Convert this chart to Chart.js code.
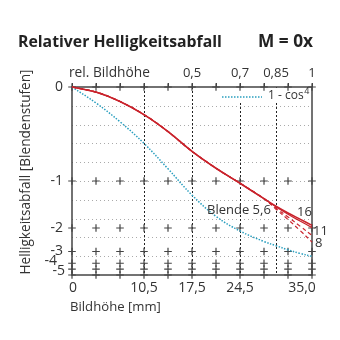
<!DOCTYPE html>
<html>
<head>
<meta charset="utf-8">
<script src="https://cdn.jsdelivr.net/npm/chart.js@4"></script>
<style>
  html, body { margin: 0; padding: 0; background: #fff; }
  #wrap { width: 340px; height: 340px; }
</style>
</head>
<body>
<div id="wrap"><canvas id="chart" width="340" height="340"></canvas></div>
<script>
// Bildhoehe in mm (x) and relative brightness (linear, 1 = centre)
var bildhoehe = [0, 3.5, 7, 10.5, 14, 17.5, 21, 24.5, 28, 29.75, 31.5, 33.25, 35];
var cos4      = [1.0, 0.915, 0.815, 0.70, 0.565, 0.425, 0.312, 0.234, 0.178, 0.156, 0.134, 0.115, 0.099];
var blende16  = [1.0, 0.973, 0.923, 0.853, 0.763, 0.658, 0.568, 0.488, 0.406, 0.366, 0.33, 0.297, 0.264];
var blende11  = [1.0, 0.973, 0.923, 0.853, 0.763, 0.658, 0.568, 0.488, 0.406, 0.363, 0.323, 0.287, 0.252];
var blende8   = [1.0, 0.973, 0.923, 0.853, 0.763, 0.658, 0.568, 0.488, 0.406, 0.356, 0.309, 0.26, 0.21];
var blende56  = [1.0, 0.973, 0.923, 0.853, 0.763, 0.658, 0.568, 0.488, 0.406, 0.35, 0.295, 0.237, 0.175];

// axis ticks
var rasterMm   = [0, 3.5, 7, 10.5, 14, 17.5, 21, 24.5, 28, 31.5, 35];
var xTicks     = [0, 10.5, 17.5, 24.5, 35];
var xLabels    = ['0', '10,5', '17,5', '24,5', '35,0'];
var relTicks   = [17.5, 24.5, 29.75, 35];
var relLabels  = ['0,5', '0,7', '0,85', '1'];
var vLines     = [10.5, 17.5, 24.5, 29.75];
var stufen     = [0, -1, -2, -3, -4, -5];
var hLines     = [0.1, 0.2, 0.3, 0.4, 0.5, 0.6, 0.7, 0.8, 0.9];

var RED = '#c9232c';
var CYAN = '#2a9fbf';
var INK = '#444';
var FONT = '"Open Sans", "DejaVu Sans", sans-serif';

function pts(ys) {
    return bildhoehe.map(function (x, i) { return {x: x, y: ys[i]}; });
}

function crosses() {
    var out = [];
    stufen.forEach(function (s) {
        rasterMm.forEach(function (x) { out.push({x: x, y: Math.pow(2, s)}); });
    });
    rasterMm.forEach(function (x) { out.push({x: x, y: 0}); });
    return out;
}

// set a font so the text gets roughly the given width
function fitFont(ctx, text, weight, width) {
    ctx.font = weight + '20px ' + FONT;
    var size = 20 * width / ctx.measureText(text).width;
    ctx.font = weight + size.toFixed(2) + 'px ' + FONT;
}

var frame = {
    id: 'frame',
    beforeDatasetsDraw: function (chart) {
        var ctx = chart.ctx, a = chart.chartArea;
        var xs = chart.scales.x, ys = chart.scales.y;
        ctx.save();
        // light horizontal grid
        ctx.strokeStyle = '#aaa';
        ctx.lineWidth = 1;
        ctx.setLineDash([1, 3]);
        hLines.forEach(function (v) {
            var y = Math.round(ys.getPixelForValue(v)) + 0.5;
            ctx.beginPath(); ctx.moveTo(a.left, y); ctx.lineTo(a.right, y); ctx.stroke();
        });
        // dark vertical dotted lines
        ctx.strokeStyle = '#222';
        ctx.setLineDash([2, 2]);
        vLines.forEach(function (v) {
            var x = Math.round(xs.getPixelForValue(v)) + 0.5;
            ctx.beginPath(); ctx.moveTo(x, a.top); ctx.lineTo(x, a.bottom); ctx.stroke();
        });
        ctx.setLineDash([]);
        // legend box covers the grid
        ctx.fillStyle = '#fff';
        ctx.fillRect(218, a.top + 1, 92, 15);
        // frame
        ctx.strokeStyle = INK;
        ctx.lineWidth = 1.5;
        ctx.strokeRect(a.left, a.top, a.right - a.left, a.bottom - a.top);
        // top ticks
        ctx.lineWidth = 1;
        rasterMm.forEach(function (v) {
            var x = Math.round(xs.getPixelForValue(v)) + 0.5;
            ctx.beginPath(); ctx.moveTo(x, a.top); ctx.lineTo(x, a.top - 4); ctx.stroke();
        });
        ctx.restore();
    },
    afterDraw: function (chart) {
        var ctx = chart.ctx, a = chart.chartArea;
        var xs = chart.scales.x, ys = chart.scales.y;
        ctx.save();
        ctx.fillStyle = '#222';
        ctx.textBaseline = 'alphabetic';
        fitFont(ctx, 'Relativer Helligkeitsabfall', 'bold ', 204);
        ctx.textAlign = 'left';
        ctx.fillText('Relativer Helligkeitsabfall', 18, 47);
        fitFont(ctx, 'M = 0x', 'bold ', 55);
        ctx.textAlign = 'right';
        ctx.fillText('M = 0x', 313, 47);

        ctx.fillStyle = '#333';
        fitFont(ctx, 'rel. Bildhöhe', '', 81);
        ctx.textAlign = 'left';
        ctx.fillText('rel. Bildhöhe', 69, 77);
        ctx.font = '13px ' + FONT;
        ctx.textAlign = 'center';
        relTicks.forEach(function (v, i) {
            ctx.fillText(relLabels[i], xs.getPixelForValue(v), 77);
        });

        ctx.font = '14px ' + FONT;
        ctx.textBaseline = 'middle';
        xTicks.forEach(function (v, i) {
            var x = xs.getPixelForValue(v);
            if (i === xTicks.length - 1) x -= 10;
            if (i === 0) x += 1;
            ctx.fillText(xLabels[i], x, 288);
        });
        ctx.textAlign = 'left';
        fitFont(ctx, 'Bildhöhe [mm]', '', 91);
        ctx.fillText('Bildhöhe [mm]', 70, 307);

        // y labels (stops)
        ctx.font = '14px ' + FONT;
        ctx.textAlign = 'right';
        stufen.forEach(function (s) {
            var y = ys.getPixelForValue(Math.pow(2, s));
            var x = a.left - 9;
            if (s === -4) { x = a.left - 15; y -= 2; }
            if (s === -5) { x = a.left - 7; y += 2; }
            ctx.fillText(s === 0 ? '0' : '-' + (-s), x, y);
        });

        ctx.save();
        ctx.translate(26, 172);
        ctx.rotate(-Math.PI / 2);
        ctx.textAlign = 'center';
        fitFont(ctx, 'Helligkeitsabfall [Blendenstufen]', '', 205);
        ctx.fillText('Helligkeitsabfall [Blendenstufen]', 0, 0);
        ctx.restore();

        // curve labels
        ctx.font = '13px ' + FONT;
        ctx.textAlign = 'left';
        ctx.fillText('Blende 5,6', 207, 210);
        ctx.fillText('16', 297, 212);
        ctx.fillText('11', 313, 231);
        ctx.fillText('8', 315, 243);

        // legend
        ctx.strokeStyle = CYAN;
        ctx.lineWidth = 1.5;
        ctx.setLineDash([1.5, 1.5]);
        ctx.beginPath(); ctx.moveTo(222, 97); ctx.lineTo(262, 97); ctx.stroke();
        ctx.setLineDash([]);
        ctx.font = '12px ' + FONT;
        ctx.fillText('1 - cos', 268, 96);
        var w = ctx.measureText('1 - cos').width;
        ctx.font = '9px ' + FONT;
        ctx.fillText('4', 268 + w + 0.5, 91);
        ctx.restore();
    }
};

function line(data, color, dash, width, order) {
    return {
        data: pts(data),
        borderColor: color,
        borderWidth: width,
        borderDash: dash,
        pointRadius: 0,
        tension: 0.4,
        fill: false,
        clip: false,
        order: order
    };
}

var myChart = new Chart(document.getElementById('chart'), {
    type: 'line',
    data: {
        datasets: [
            line(blende16, RED, [], 1.6, 1),
            line(blende11, RED, [], 1.2, 2),
            line(blende8, RED, [4, 3], 1.2, 3),
            line(blende56, RED, [4, 3], 1.2, 4),
            line(cos4, CYAN, [1.5, 1.5], 1.5, 5),
            {
                type: 'scatter',
                data: crosses(),
                showLine: false,
                pointStyle: 'cross',
                pointRadius: 3.8,
                borderColor: INK,
                borderWidth: 1.2,
                clip: false,
                order: 10
            }
        ]
    },
    options: {
        responsive: false,
        animation: false,
        events: [],
        layout: { padding: { left: 72, right: 28, top: 87, bottom: 65 } },
        scales: {
            x: { type: 'linear', min: 0, max: 35, display: false },
            y: { type: 'linear', min: 0, max: 1, display: false }
        },
        plugins: {
            legend: { display: false },
            tooltip: { enabled: false },
            title: { display: false }
        }
    },
    plugins: [frame]
});
</script>
</body>
</html>
